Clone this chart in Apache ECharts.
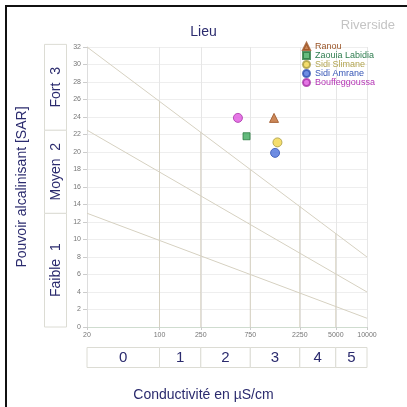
<!DOCTYPE html>
<html>
<head>
<meta charset="utf-8">
<script src="https://cdn.jsdelivr.net/npm/echarts@6/dist/echarts.min.js"></script>
<style>
html, body { margin: 0; padding: 0; background: #fff; }
#chart_box { width: 407px; height: 407px; }
</style>
</head>
<body>
<div id="chart_box"></div>
<script>
// points
const sites = ['Ranou', 'Zaouia Labidia', 'Sidi Slimane', 'Sidi Amrane', 'Bouffeggoussa']
const conductivity = [1270, 690, 1370, 1300, 570]
const sar = [23.9, 21.8, 21.1, 19.9, 23.9]
const siteSymbols = ['triangle', 'rect', 'circle', 'circle', 'circle']
const siteColors = ['#bf6a30', '#3daa5c', '#f2d64a', '#4a70dc', '#e055e0']
const siteBorders = ['#9a5020', '#2a7a40', '#a89a40', '#3050b0', '#a830a8']
const siteTextColors = ['#9a5528', '#2e7d4f', '#b3a550', '#3555b5', '#b535b5']

// axes
const ecTicks = [20, 100, 250, 750, 2250, 5000, 10000]
const ecClasses = ['0', '1', '2', '3', '4', '5']
const sarClasses = ['Faible  1', 'Moyen  2', 'Fort  3']
const sarClassLimits = [0, 13, 22.5, 32.3]

// riverside class lines
const lineStart = [32, 22.5, 13]
const lineEnd = [8, 4, 1]
const boundaryEc = [100, 250, 750, 2250, 5000]
const boundarySar = [25.8, 22.3, 18.0, 13.8, 10.7]

const lineColor = '#d6d1c1'
const navy = '#2b2b6e'

let myChart = echarts.init(document.getElementById('chart_box'))

let series = []
lineStart.map((s, i) => {
    series.push({
        type: 'line', silent: true, symbol: 'none', z: 1,
        lineStyle: { color: lineColor, width: 1 },
        data: [[20, s], [10000, lineEnd[i]]]
    })
})
boundaryEc.map((x, i) => {
    series.push({
        type: 'line', silent: true, symbol: 'none', z: 1,
        lineStyle: { color: lineColor, width: 1 },
        data: [[x, 0], [x, boundarySar[i]]]
    })
})
sites.map((name, i) => {
    series.push({
        name: name,
        type: 'scatter',
        symbol: siteSymbols[i],
        symbolSize: siteSymbols[i] === 'rect' ? 7 : 9,
        z: 5,
        itemStyle: { color: siteColors[i], borderColor: siteBorders[i], borderWidth: 1 },
        data: [[conductivity[i], sar[i]]]
    })
})

let option = {
    animation: false,
    title: [
        { text: 'Lieu', left: 'center', top: 20, textStyle: { fontSize: 14, fontWeight: 'normal', color: navy, fontFamily: 'Liberation Sans' } },
        { text: 'Riverside', right: 7, top: 14, textStyle: { fontSize: 13, fontWeight: 'normal', color: '#c4c4c4', fontFamily: 'Liberation Sans' } },
        { text: 'Conductivité en µS/cm', left: 'center', top: 383, textStyle: { fontSize: 14, fontWeight: 'normal', color: navy, fontFamily: 'Liberation Sans' } }
    ],
    legend: {
        orient: 'vertical',
        left: 300,
        top: 40,
        padding: 2,
        itemWidth: 7,
        itemHeight: 7,
        itemGap: 0,
        textStyle: { fontSize: 9, fontFamily: 'Liberation Sans' },
        data: sites.map((s, i) => ({ name: s, textStyle: { color: siteTextColors[i] } }))
    },
    grid: { left: 87, right: 40, top: 47, bottom: 80 },
    xAxis: {
        type: 'log',
        min: 20,
        max: 10000,
        axisLine: { lineStyle: { color: '#cfdccf' } },
        axisTick: { show: true, customValues: ecTicks, length: 3, lineStyle: { color: '#cccccc' } },
        axisLabel: {
            customValues: ecTicks, fontSize: 7, color: '#777', margin: 5, fontFamily: 'Liberation Sans',
            formatter: function (value) { return String(Math.round(value)) }
        },
        splitLine: { show: true, lineStyle: { color: '#e6e6e6' } },
        minorTick: { show: false }
    },
    yAxis: {
        type: 'value',
        min: 0,
        max: 32,
        interval: 2,
        name: 'Pouvoir alcalinisant [SAR]',
        nameLocation: 'middle',
        nameGap: 58,
        nameTextStyle: { fontSize: 14, color: navy, fontFamily: 'Liberation Sans' },
        axisLine: { show: true, lineStyle: { color: '#dddddd' } },
        axisTick: { show: true, length: 4, lineStyle: { color: '#cccccc' } },
        axisLabel: { fontSize: 7, color: '#777', margin: 6, fontFamily: 'Liberation Sans' },
        splitLine: { lineStyle: { color: '#eeeeee' } }
    },
    series: series
}
myChart.setOption(option)

// class boxes placed through the axes
function classBoxes() {
    let g = []
    // outer frame (top and left)
    g.push({ type: 'line', shape: { x1: 5, y1: 6, x2: 407, y2: 6 }, style: { stroke: '#111', lineWidth: 2 } })
    g.push({ type: 'line', shape: { x1: 6, y1: 5, x2: 6, y2: 407 }, style: { stroke: '#111', lineWidth: 2 } })
    sarClasses.map((label, i) => {
        let yb = myChart.convertToPixel({ yAxisIndex: 0 }, sarClassLimits[i])
        let yt = myChart.convertToPixel({ yAxisIndex: 0 }, sarClassLimits[i + 1])
        g.push({ type: 'rect', shape: { x: 44.5, y: yt, width: 22, height: yb - yt }, style: { fill: '#fff', stroke: '#dcdcd4', lineWidth: 1 } })
        g.push({
            type: 'text', x: 56, y: (yt + yb) / 2, rotation: Math.PI / 2,
            style: { text: label, fill: navy, font: '14px Liberation Sans', align: 'center', verticalAlign: 'middle' }
        })
    })
    ecClasses.map((label, i) => {
        let xl = myChart.convertToPixel({ xAxisIndex: 0 }, ecTicks[i])
        let xr = myChart.convertToPixel({ xAxisIndex: 0 }, ecTicks[i + 1])
        let xm = myChart.convertToPixel({ xAxisIndex: 0 }, Math.sqrt(ecTicks[i] * ecTicks[i + 1]))
        g.push({ type: 'rect', shape: { x: xl, y: 347.5, width: xr - xl, height: 20 }, style: { fill: '#fff', stroke: '#dcdcd4', lineWidth: 1 } })
        g.push({
            type: 'text', x: xm, y: 358,
            style: { text: label, fill: navy, font: '15px Liberation Sans', align: 'center', verticalAlign: 'middle' }
        })
    })
    return g
}
myChart.setOption({ graphic: classBoxes() })
</script>
</body>
</html>
